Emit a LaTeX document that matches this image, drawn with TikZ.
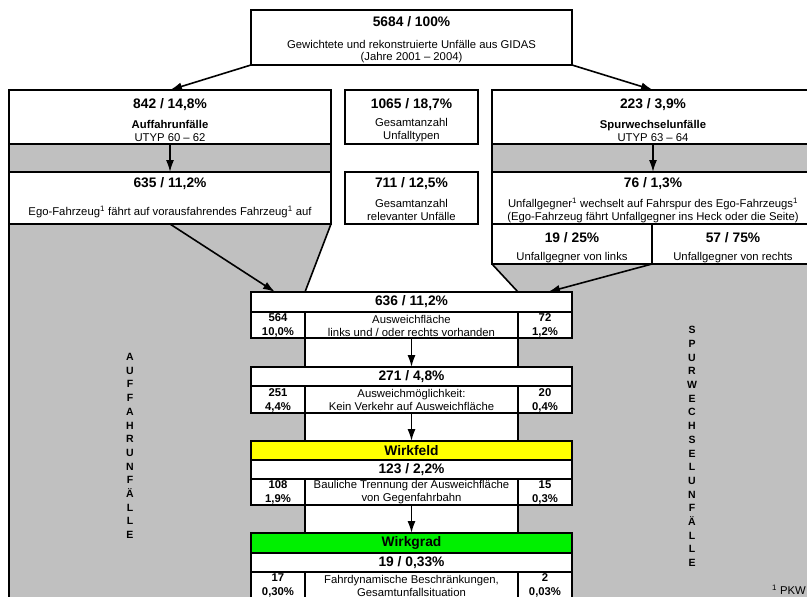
\documentclass[tikz,border=0pt]{standalone}
\usepackage{fontspec}
\setmainfont{Liberation Sans}
\usetikzlibrary{arrows.meta}
\definecolor{panelgray}{RGB}{192,192,192}
\definecolor{fieldyellow}{RGB}{255,255,0}
\definecolor{gradegreen}{RGB}{0,240,0}
% rectangular panel given by its two corners: [style]{name}{x1}{y1}{x2}{y2}
\newcommand\panel[6][]{%
  \node[frame,#1,minimum width={#5-#3},minimum height={#6-#4}] (#2)
    at ({(#3+#5)/2},{(#4+#6)/2}) {};}
\begin{document}
\begin{tikzpicture}[x=1pt,y=-1pt,
  frame/.style={draw=black, line width=1.6pt, fill=white, rectangle,
    inner sep=0pt, outer sep=0pt},
  edge/.style={draw=black, line width=1.6pt},
  arr/.style={-{Latex[length=12pt,width=8pt]}, line width=1.6pt},
  tx/.style={font=\fontsize{11.3}{13}\selectfont, align=center, inner sep=0pt},
  hd/.style={font=\bfseries\fontsize{13.8}{16}\selectfont, inner sep=0pt},
  sm/.style={font=\bfseries\fontsize{11.3}{14}\selectfont, align=center, inner sep=0pt},
  side/.style={font=\bfseries\fontsize{10.5}{13.7}\selectfont, align=center, inner sep=0pt}]
\useasboundingbox (0,0) rectangle (807,597);
\clip (0,0) rectangle (807,597);
\fill[white] (0,0) rectangle (807,597);

% grey background below the upper rows, with the white funnel and channel
\fill[panelgray] (9,224) rectangle (830,610);
\fill[white] (331,224) -- (492,224) -- (492,264) -- (518,292) -- (518,610)
  -- (305,610) -- (305,292) -- cycle;
\draw[edge] (331,224) -- (305,292) -- (305,610);
\draw[edge] (492,264) -- (518,292) -- (518,610);
\draw[edge] (9,224) -- (9,610);

% top box
\panel{top}{251}{10}{572}{65}
\node[hd] (topv) at (411.5,22) {5684 / 100\%};
\node[tx, font=\fontsize{11.3}{12.5}\selectfont] (topt) at (411.5,51.5)
  {Gewichtete und rekonstruierte Unfälle aus GIDAS\\(Jahre 2001 -- 2004)};

% left column: rear-end collisions
\panel{l1}{9}{90}{331}{144}
\panel[fill=panelgray]{ls}{9}{144}{331}{172}
\panel{l2}{9}{172}{331}{224}
\node[hd] (l1v) at (170,105) {842 / 14,8\%};
\node[tx] (l1t) at (170,130.5) {\textbf{Auffahrunfälle}\\UTYP 60 -- 62};
\node[hd] (l2v) at (170,184) {635 / 11,2\%};
\node[tx] (l2t) at (170,211.5)
  {Ego-Fahrzeug\textsuperscript{1} fährt auf vorausfahrendes Fahrzeug\textsuperscript{1} auf};

% middle column: totals
\panel{m1}{345}{90}{478}{144}
\panel{m2}{345}{172}{478}{224}
\node[hd] (m1v) at (411.5,105) {1065 / 18,7\%};
\node[tx] (m1t) at (411.5,130.5) {Gesamtanzahl\\Unfalltypen};
\node[hd] (m2v) at (411.5,184) {711 / 12,5\%};
\node[tx] (m2t) at (411.5,210) {Gesamtanzahl\\relevanter Unfälle};

% right column: lane-change collisions
\panel{r1}{492}{90}{814}{144}
\panel[fill=panelgray]{rs}{492}{144}{814}{172}
\panel{r2}{492}{172}{814}{224}
\panel{ra}{492}{224}{652}{264}
\panel{rb}{652}{224}{814}{264}
\node[hd] (r1v) at (653,105) {223 / 3,9\%};
\node[tx] (r1t) at (653,130.5) {\textbf{Spurwechselunfälle}\\UTYP 63 -- 64};
\node[hd] (r2v) at (653,184) {76 / 1,3\%};
\node[tx] (r2t) at (653,210)
  {Unfallgegner\textsuperscript{1} wechselt auf Fahrspur des Ego-Fahrzeugs\textsuperscript{1}\\(Ego-Fahrzeug fährt Unfallgegner ins Heck oder die Seite)};
\node[hd] (rav) at (572,238) {19 / 25\%};
\node[tx] (rat) at (572,258) {Unfallgegner von links};
\node[hd] (rbv) at (733,238) {57 / 75\%};
\node[tx] (rbt) at (733,258) {Unfallgegner von rechts};

% central chain
\panel{c1}{251}{292}{572}{312}
\panel{c1a}{251}{312}{305}{338}
\panel{c1b}{305}{312}{518}{338}
\panel{c1c}{518}{312}{572}{338}
\node[hd] (c1v) at (411.5,302) {636 / 11,2\%};
\node[sm] (c1l) at (278,325.5) {564\\10,0\%};
\node[tx] (c1t) at (411.5,325.5) {Ausweichfläche\\links und / oder rechts vorhanden};
\node[sm] (c1r) at (545,325.5) {72\\1,2\%};

\panel{c2}{251}{367}{572}{386}
\panel{c2a}{251}{386}{305}{413}
\panel{c2b}{305}{386}{518}{413}
\panel{c2c}{518}{386}{572}{413}
\node[hd] (c2v) at (411.5,376.5) {271 / 4,8\%};
\node[sm] (c2l) at (278,400) {251\\4,4\%};
\node[tx] (c2t) at (411.5,400) {Ausweichmöglichkeit:\\Kein Verkehr auf Ausweichfläche};
\node[sm] (c2r) at (545,400) {20\\0,4\%};

\panel[fill=fieldyellow]{c3y}{251}{441}{572}{460}
\panel{c3}{251}{460}{572}{479}
\panel{c3a}{251}{479}{305}{505}
\panel{c3b}{305}{479}{518}{505}
\panel{c3c}{518}{479}{572}{505}
\node[hd] (c3n) at (411.5,450.5) {Wirkfeld};
\node[hd] (c3v) at (411.5,469.5) {123 / 2,2\%};
\node[sm] (c3l) at (278,492.5) {108\\1,9\%};
\node[tx] (c3t) at (411.5,492.5) {Bauliche Trennung der Ausweichfläche\\von Gegenfahrbahn};
\node[sm] (c3r) at (545,492.5) {15\\0,3\%};

\panel[fill=gradegreen]{c4g}{251}{533}{572}{553}
\panel{c4}{251}{553}{572}{572}
\panel{c4a}{251}{572}{305}{598}
\panel{c4b}{305}{572}{518}{598}
\panel{c4c}{518}{572}{572}{598}
\node[hd] (c4n) at (411.5,543) {Wirkgrad};
\node[hd] (c4v) at (411.5,562.5) {19 / 0,33\%};
\node[sm] (c4l) at (278,585.5) {17\\0,30\%};
\node[tx] (c4t) at (411.5,585.5) {Fahrdynamische Beschränkungen,\\Gesamtunfallsituation};
\node[sm] (c4r) at (545,585.5) {2\\0,03\%};

% vertical side labels
\node[side] (sideL) at (130,446)
  {A\\U\\F\\F\\A\\H\\R\\U\\N\\F\\Ä\\L\\L\\E};
\node[side] (sideR) at (692,446.5)
  {S\\P\\U\\R\\W\\E\\C\\H\\S\\E\\L\\U\\N\\F\\Ä\\L\\L\\E};

% footnote
\node[font=\fontsize{11.3}{13}\selectfont, anchor=base east, inner sep=0pt] (fn)
  at (806,594) {\textsuperscript{1} PKW};

% connectors
\coordinate (lhit) at (275,292);
\coordinate (rhit) at (548,292);
\draw[arr] (top.south west) -- (l1.north);
\draw[arr] (top.south east) -- (r1.north);
\draw[arr] (l1.south) -- (l2.north);
\draw[arr] (r1.south) -- (r2.north);
\draw[arr] (l2.south) -- (lhit);
\draw[arr] (ra.south east) -- (rhit);
\draw[arr] (c1b.south) -- (c2.north);
\draw[arr] (c2b.south) -- (c3y.north);
\draw[arr] (c3b.south) -- (c4g.north);
\end{tikzpicture}
\end{document}
